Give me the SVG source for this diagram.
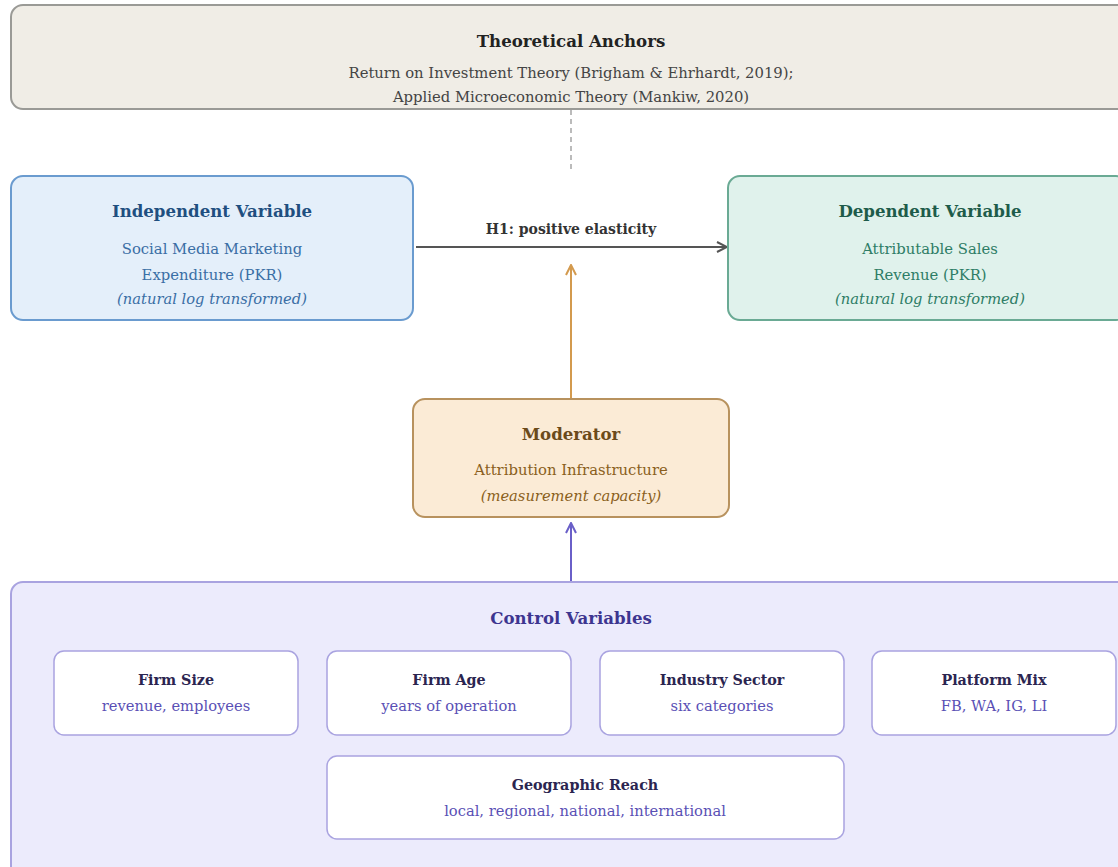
<svg xmlns="http://www.w3.org/2000/svg" width="1118" height="867" viewBox="0 0 1118 867">
<defs>
<style>
text{font-family:"DejaVu Serif",serif;text-anchor:middle}
.t{font-weight:bold;font-size:16.6px}
.s{font-size:14.8px}
.i{font-size:14.7px;font-style:italic}
.ct{font-weight:bold;font-size:14.3px;fill:#2b2550}
.cs{font-size:14.7px;fill:#5a50b5}
.cbox{fill:#ffffff;stroke:#a9a3e0;stroke-width:1.5}
</style>
<marker id="ag" viewBox="0 0 12 12" refX="11" refY="6" markerWidth="12" markerHeight="12" markerUnits="userSpaceOnUse" orient="auto"><path d="M1,1 L11,6 L1,11" fill="none" stroke="#555" stroke-width="2"/></marker>
<marker id="ao" viewBox="0 0 12 12" refX="11" refY="6" markerWidth="12" markerHeight="12" markerUnits="userSpaceOnUse" orient="auto"><path d="M1,1 L11,6 L1,11" fill="none" stroke="#d39a4e" stroke-width="2"/></marker>
<marker id="ap" viewBox="0 0 12 12" refX="11" refY="6" markerWidth="12" markerHeight="12" markerUnits="userSpaceOnUse" orient="auto"><path d="M1,1 L11,6 L1,11" fill="none" stroke="#6a5fc8" stroke-width="2"/></marker>
</defs>
<rect width="1118" height="867" fill="#ffffff"/>
<g id="anchors">
<rect x="11" y="5" width="1120" height="104" rx="12" fill="#f0ede6" stroke="#9a9a96" stroke-width="2"/>
<text class="t" x="571" y="47" fill="#222">Theoretical Anchors</text>
<text class="s" x="571" y="78" fill="#444">Return on Investment Theory (Brigham &amp; Ehrhardt, 2019);</text>
<text class="s" x="571" y="102" fill="#444">Applied Microeconomic Theory (Mankiw, 2020)</text>
</g>
<g id="connectors">
<line x1="571" y1="110" x2="571" y2="172" stroke="#bbbbbb" stroke-width="2" stroke-dasharray="5,4"/>
<line x1="416" y1="247" x2="727" y2="247" stroke="#555" stroke-width="2" marker-end="url(#ag)"/>
<text x="571" y="234" font-size="14" font-weight="bold" fill="#333">H1: positive elasticity</text>
<line x1="571" y1="398" x2="571" y2="265" stroke="#d39a4e" stroke-width="2" marker-end="url(#ao)"/>
<line x1="571" y1="582" x2="571" y2="523" stroke="#6a5fc8" stroke-width="2" marker-end="url(#ap)"/>
</g>
<g id="independent">
<rect x="11" y="176" width="402" height="144" rx="12" fill="#e4effa" stroke="#6a9bcf" stroke-width="2"/>
<text class="t" x="212" y="217" fill="#1f4f80">Independent Variable</text>
<text class="s" x="212" y="254" fill="#3a6ea5">Social Media Marketing</text>
<text class="s" x="212" y="280" fill="#3a6ea5">Expenditure (PKR)</text>
<text class="i" x="212" y="304" fill="#3a6ea5">(natural log transformed)</text>
</g>
<g id="dependent">
<rect x="728" y="176" width="400" height="144" rx="12" fill="#e0f2ec" stroke="#6aaa94" stroke-width="2"/>
<text class="t" x="930" y="217" fill="#1e5c4a">Dependent Variable</text>
<text class="s" x="930" y="254" fill="#2e7d66">Attributable Sales</text>
<text class="s" x="930" y="280" fill="#2e7d66">Revenue (PKR)</text>
<text class="i" x="930" y="304" fill="#2e7d66">(natural log transformed)</text>
</g>
<g id="moderator">
<rect x="413" y="399" width="316" height="118" rx="12" fill="#fbebd6" stroke="#b8925e" stroke-width="2"/>
<text class="t" x="571" y="440" fill="#6b4a1a">Moderator</text>
<text class="s" x="571" y="475" fill="#8a5f20">Attribution Infrastructure</text>
<text class="i" x="571" y="501" fill="#8a5f20">(measurement capacity)</text>
</g>
<g id="controls">
<rect x="11" y="582" width="1120" height="300" rx="12" fill="#ecebfc" stroke="#a9a3e0" stroke-width="2"/>
<text class="t" x="571" y="624" fill="#3d3590">Control Variables</text>
</g>
<g id="firm-size">
<rect class="cbox" x="54" y="651" width="244" height="84" rx="10"/>
<text class="ct" x="176" y="685">Firm Size</text>
<text class="cs" x="176" y="711">revenue, employees</text>
</g>
<g id="firm-age">
<rect class="cbox" x="327" y="651" width="244" height="84" rx="10"/>
<text class="ct" x="449" y="685">Firm Age</text>
<text class="cs" x="449" y="711">years of operation</text>
</g>
<g id="industry-sector">
<rect class="cbox" x="600" y="651" width="244" height="84" rx="10"/>
<text class="ct" x="722" y="685">Industry Sector</text>
<text class="cs" x="722" y="711">six categories</text>
</g>
<g id="platform-mix">
<rect class="cbox" x="872" y="651" width="244" height="84" rx="10"/>
<text class="ct" x="994" y="685">Platform Mix</text>
<text class="cs" x="994" y="711">FB, WA, IG, LI</text>
</g>
<g id="geographic-reach">
<rect class="cbox" x="327" y="756" width="517" height="83" rx="10"/>
<text class="ct" x="585" y="790">Geographic Reach</text>
<text class="cs" x="585" y="816">local, regional, national, international</text>
</g>
</svg>
